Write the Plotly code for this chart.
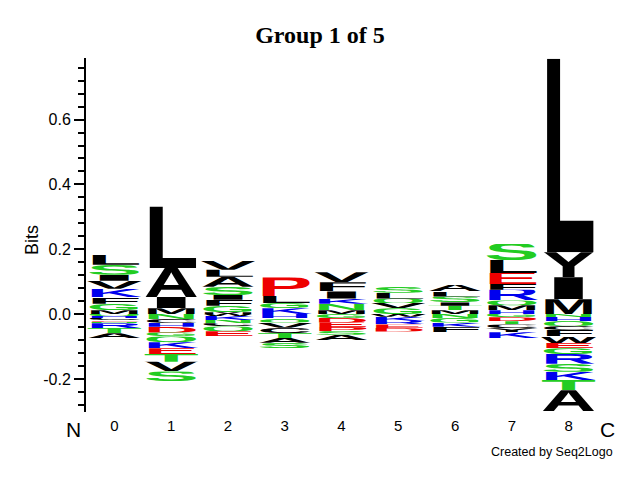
import base64
import plotly.graph_objects as go

# ---------------- data ----------------
positions = [0, 1, 2, 3, 4, 5, 6, 7, 8]
tick_labels = ["0", "1", "2", "3", "4", "5", "6", "7", "8"]
y_tick_values = [-0.2, 0.0, 0.2, 0.4, 0.6]
y_tick_labels = ["-0.2", "0.0", "0.2", "0.4", "0.6"]

# positive stacks, listed bottom -> top
pos_letters = [
    ["M", "G", "F", "K", "V", "I", "S", "L"],
    ["M", "I", "A", "L"],
    ["M", "G", "F", "I", "S", "A", "L", "V"],
    ["K", "G", "L", "P"],
    ["M", "N", "K", "I", "F", "V"],
    ["G", "V", "Q", "L", "S"],
    ["M", "T", "I", "S", "L", "A"],
    ["H", "M", "Q", "R", "F", "E", "L", "S"],
    ["M", "I", "Y", "L"],
]
pos_bits = [
    [0.012, 0.020, 0.021, 0.025, 0.025, 0.018, 0.031, 0.031],
    [0.018, 0.035, 0.089, 0.190],
    [0.006, 0.020, 0.018, 0.015, 0.025, 0.031, 0.022, 0.027],
    [0.018, 0.016, 0.022, 0.057],
    [0.012, 0.020, 0.016, 0.022, 0.028, 0.031],
    [0.018, 0.016, 0.014, 0.018, 0.018],
    [0.012, 0.014, 0.010, 0.018, 0.016, 0.020],
    [0.012, 0.015, 0.015, 0.033, 0.018, 0.034, 0.040, 0.049],
    [0.046, 0.068, 0.077, 0.597],
]

# negative stacks, listed from zero downward
neg_letters = [
    ["Q", "H", "C", "E", "N", "R", "T", "A"],
    ["N", "C", "H", "D", "G", "Q", "K", "E", "T", "V", "S"],
    ["W", "K", "N", "C", "Q", "E"],
    ["H", "Q", "V", "C", "T", "A", "S"],
    ["G", "D", "E", "P", "S", "A"],
    ["W", "K", "R", "E", "D"],
    ["N", "G", "K", "F"],
    ["G", "D", "T", "C", "Y", "K"],
    ["N", "H", "Q", "C", "F", "W", "E", "G", "R", "S", "K", "T", "A"],
]
neg_bits = [
    [0.006, 0.006, 0.006, 0.005, 0.005, 0.015, 0.016, 0.016],
    [0.015, 0.012, 0.012, 0.018, 0.012, 0.018, 0.018, 0.018, 0.024, 0.030, 0.030],
    [0.006, 0.012, 0.010, 0.010, 0.015, 0.015],
    [0.013, 0.013, 0.016, 0.016, 0.016, 0.014, 0.017],
    [0.012, 0.014, 0.014, 0.012, 0.012, 0.016],
    [0.008, 0.013, 0.011, 0.011, 0.011],
    [0.012, 0.014, 0.013, 0.016],
    [0.010, 0.012, 0.010, 0.012, 0.012, 0.018],
    [0.009, 0.012, 0.015, 0.012, 0.021, 0.020, 0.016, 0.018, 0.030, 0.025, 0.025, 0.032, 0.065],
]

# ---------------- style ----------------
BLACK, GREEN, BLUE, RED = "#000000", "#22cc22", "#0000ee", "#ee0000"
colour_of = {}
for aa in "ACFILMVWY":
    colour_of[aa] = BLACK
for aa in "GNQST":
    colour_of[aa] = GREEN
for aa in "HKR":
    colour_of[aa] = BLUE
for aa in "DEP":
    colour_of[aa] = RED

LETTER_W = 0.97
CAP = 0.688
SANS = "Liberation Sans, Arial, Helvetica, sans-serif"
FIG_W, FIG_H = 632, 472  # page body adds an 8px offset


def glyph_uri(letter):
    fs = 100.0 / CAP
    svg = (
        '<svg xmlns="http://www.w3.org/2000/svg" width="100" height="100" '
        'viewBox="0 0 100 100" preserveAspectRatio="none">'
        f'<text x="0" y="100" font-family="{SANS}" '
        f'font-weight="bold" font-size="{fs:.2f}" textLength="100" '
        f'lengthAdjust="spacingAndGlyphs" fill="{colour_of[letter]}">{letter}</text></svg>'
    )
    return "data:image/svg+xml;base64," + base64.b64encode(svg.encode()).decode()


images = []
for p, lets, bits in zip(positions, pos_letters, pos_bits):
    base = 0.0
    for aa, h in zip(lets, bits):
        images.append(dict(source=glyph_uri(aa), xref="x", yref="y",
                           x=p - LETTER_W / 2, y=base + h, sizex=LETTER_W, sizey=h,
                           sizing="stretch", xanchor="left", yanchor="top", layer="above"))
        base += h
for p, lets, bits in zip(positions, neg_letters, neg_bits):
    top = 0.0
    for aa, h in zip(lets, bits):
        images.append(dict(source=glyph_uri(aa), xref="x", yref="y",
                           x=p - LETTER_W / 2, y=top, sizex=LETTER_W, sizey=h,
                           sizing="stretch", xanchor="left", yanchor="top", layer="above"))
        top -= h

pos_tot = [sum(b) for b in pos_bits]
neg_tot = [-sum(b) for b in neg_bits]

fig = go.Figure()
fig.add_trace(go.Scatter(x=positions + positions, y=pos_tot + neg_tot, mode="markers",
                         marker=dict(opacity=0, size=2), hoverinfo="x+y", showlegend=False))

fig.update_layout(
    width=FIG_W, height=FIG_H,
    margin=dict(l=78, r=43, t=50, b=68, autoexpand=False),
    paper_bgcolor="white", plot_bgcolor="white",
    images=images,
    showlegend=False,
    title=dict(text="<b>Group 1 of 5</b>", x=312 / FIG_W, xref="container", y=1 - 27 / FIG_H,
               yref="container", xanchor="center", yanchor="middle",
               font=dict(family="Liberation Serif, Times New Roman, serif", size=24, color="black")),
    xaxis=dict(range=[-0.5, 8.5], tickmode="array", tickvals=positions, ticktext=tick_labels,
               showgrid=False, zeroline=False, showline=False, ticks="", ticklabelstandoff=3,
               tickfont=dict(family=SANS, size=15, color="black")),
    yaxis=dict(range=[-0.302, 0.79], tickmode="array", tickvals=y_tick_values, ticktext=y_tick_labels,
               showgrid=False, zeroline=False, showline=True, linecolor="black", linewidth=2,
               ticks="outside", ticklen=10, tickwidth=1.5, tickcolor="black",
               minor=dict(dtick=0.04, tick0=0, ticks="outside", ticklen=6, tickwidth=1.5, tickcolor="black"),
               tickfont=dict(family=SANS, size=16, color="black")),
    annotations=[
        dict(text="Bits", xref="paper", yref="paper", x=-0.1057, y=0.486, textangle=-90,
             showarrow=False, xanchor="center", yanchor="middle",
             font=dict(family=SANS, size=18, color="black")),
        dict(text="N", xref="paper", yref="paper", x=-0.0254, y=-0.0508, showarrow=False,
             xanchor="center", yanchor="middle",
             font=dict(family=SANS, size=21, color="black")),
        dict(text="C", xref="paper", yref="paper", x=1.0215, y=-0.0508, showarrow=False,
             xanchor="center", yanchor="middle",
             font=dict(family=SANS, size=21, color="black")),
        dict(text="Created by Seq2Logo", xref="paper", yref="paper", x=1.0352, y=-0.113,
             showarrow=False, xanchor="right", yanchor="middle",
             font=dict(family=SANS, size=12.5, color="black")),
    ],
)

fig.write_html("out.html")
